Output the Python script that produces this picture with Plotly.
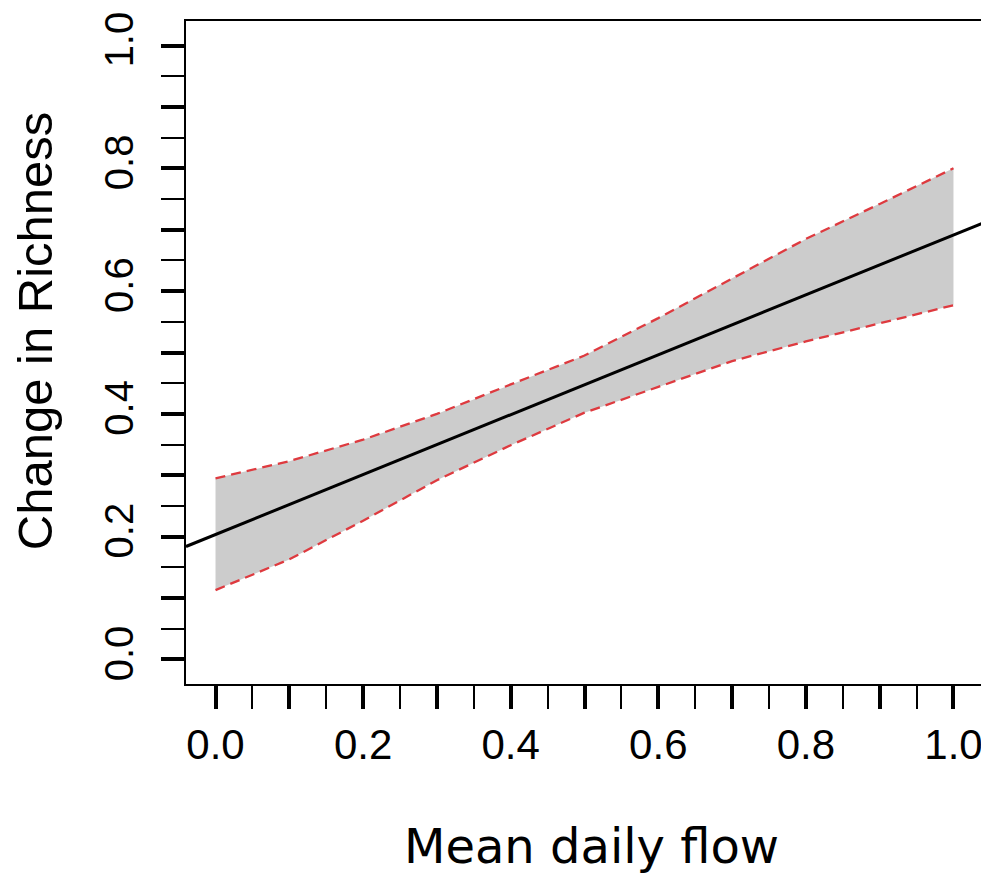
import plotly.graph_objects as go

# ---- data ----
x_vals = [0.0, 0.1, 0.2, 0.3, 0.4, 0.5, 0.6, 0.7, 0.8, 0.9, 1.0]
upper_ci = [0.295, 0.323, 0.358, 0.400, 0.448, 0.495, 0.556, 0.621, 0.685, 0.742, 0.800]
lower_ci = [0.113, 0.163, 0.226, 0.292, 0.349, 0.402, 0.444, 0.486, 0.518, 0.548, 0.577]

fit_x = [-0.04, 1.04]
fit_y = [0.184, 0.711]

major_ticks = [0.0, 0.1, 0.2, 0.3, 0.4, 0.5, 0.6, 0.7, 0.8, 0.9, 1.0]
major_labels = ["0.0", "", "0.2", "", "0.4", "", "0.6", "", "0.8", "", "1.0"]
minor_ticks = [0.05, 0.15, 0.25, 0.35, 0.45, 0.55, 0.65, 0.75, 0.85, 0.95]

x_title = "Mean daily flow"
y_title = "Change in Richness"

fig = go.Figure()

# shaded confidence band
fig.add_trace(go.Scatter(
    x=x_vals + x_vals[::-1],
    y=lower_ci + upper_ci[::-1],
    fill="toself", fillcolor="#cccccc",
    line=dict(width=0), mode="lines", hoverinfo="skip", showlegend=False,
))
# dashed CI boundaries
for ys in (upper_ci, lower_ci):
    fig.add_trace(go.Scatter(
        x=x_vals, y=ys, mode="lines",
        line=dict(color="#de3a3f", width=2.3, dash="10px,6px"),
        showlegend=False,
    ))
# fitted line
fig.add_trace(go.Scatter(
    x=fit_x, y=fit_y, mode="lines",
    line=dict(color="black", width=3), showlegend=False,
))

common = dict(
    showgrid=False, zeroline=False,
    showline=True, mirror=True, linecolor="black", linewidth=2,
    ticks="outside", ticklen=23, tickwidth=3.5, tickcolor="black",
    tickmode="array", tickvals=major_ticks, ticktext=major_labels,
    minor=dict(ticks="outside", ticklen=23, tickwidth=1.8, tickcolor="black",
               tickmode="array", tickvals=minor_ticks),
    range=[-0.04, 1.04],
    ticklabeloverflow="allow",
)

# page body has an 8px margin: size/margins compensate for it
fig.update_layout(
    width=981, height=872,
    margin=dict(l=178, r=4, t=6, b=196),
    paper_bgcolor="white", plot_bgcolor="white",
    xaxis=dict(**common, ticklabelstandoff=0,
               tickfont=dict(family="Liberation Sans, Arial, sans-serif", size=42, color="black")),
    yaxis=dict(**common, tickangle=-90, ticklabelstandoff=12,
               tickfont=dict(family="Liberation Sans, Arial, sans-serif", size=40, color="black")),
    annotations=[
        dict(text=x_title, xref="paper", yref="paper", x=0.509, y=-0.245,
             xanchor="center", yanchor="middle", showarrow=False,
             font=dict(family="DejaVu Sans, sans-serif", size=48, color="black")),
        dict(text=y_title, xref="paper", yref="paper", x=-0.19, y=0.533,
             xanchor="center", yanchor="middle", showarrow=False, textangle=-90,
             font=dict(family="Liberation Sans, Arial, sans-serif", size=49, color="black")),
    ],
)

fig.write_html("out.html")
